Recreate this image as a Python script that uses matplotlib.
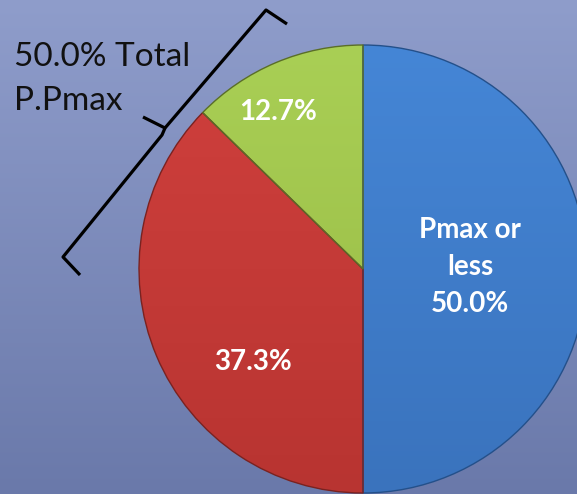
import numpy as np
import matplotlib.pyplot as plt
from matplotlib.colors import LinearSegmentedColormap

# share of each group, clockwise from 12 o'clock
groups = ["Pmax or\nless", "", ""]
shares = [50.0, 37.3, 12.7]
colors_top = ["#4586d6", "#d0403d", "#a9cf55"]
colors_bot = ["#3a73bd", "#b83431", "#97b944"]
edges = ["#24508a", "#7a2220", "#5a6e28"]
label_xy = [(470, 227), (253, 132), (278, 382)]

W, H = 577, 494
fig = plt.figure(figsize=(W / 100, H / 100), dpi=100)
ax = fig.add_axes([0, 0, 1, 1])

# background: slate-blue vertical gradient
bg = LinearSegmentedColormap.from_list("bg", ["#6a79aa", "#8f9dcb"])
grad = np.linspace(0, 1, 256).reshape(-1, 1)
ax.imshow(grad, cmap=bg, extent=[0, W, 0, H], origin="lower", aspect="auto", zorder=0)

cx, cy, r = 363, 225, 224
wedges, _ = ax.pie(shares, center=(cx, cy), radius=r, startangle=90,
                   counterclock=False, frame=True,
                   wedgeprops=dict(linewidth=1.0), colors=colors_top)
ax.set_xlim(0, W)
ax.set_ylim(0, H)
ax.set_aspect("equal")
ax.axis("off")

# soft top-to-bottom shading inside each slice
for w, ct, cb, ec in zip(wedges, colors_top, colors_bot, edges):
    w.set_edgecolor(ec)
    w.set_zorder(2)
    cm = LinearSegmentedColormap.from_list("s", [cb, ct])
    im = ax.imshow(grad, cmap=cm, extent=[cx - r, cx + r, cy - r, cy + r],
                   origin="lower", aspect="auto", zorder=1)
    im.set_clip_path(w)
    w.set_facecolor("none")

for name, val, (x, y) in zip(groups, shares, label_xy):
    txt = f"{val:.1f}%"
    if name:
        txt = name + "\n" + txt
    ax.text(x, y, txt, color="white", fontsize=20, fontweight="bold",
            family="Lato", ha="center", va="center", linespacing=1.5, zorder=3)

# bracket around the two Pmax-exceeding slices
bx = [287, 266, 165, 143]
by = [24, 10, 128, 117]
ax.plot(bx, [H - v for v in by], color="black", lw=2.3, solid_capstyle="butt",
        solid_joinstyle="round", zorder=3)
bx2 = [165, 162, 63, 80]
by2 = [128, 135, 257, 275]
ax.plot(bx2, [H - v for v in by2], color="black", lw=2.3, solid_capstyle="butt",
        solid_joinstyle="round", zorder=3)

ax.text(14, H - 42, "50.0% Total\nP.Pmax", color="#111111", fontsize=24,
        family="Lato", ha="left", va="top", linespacing=1.6, zorder=3)

fig.savefig("out.png", dpi=100)
